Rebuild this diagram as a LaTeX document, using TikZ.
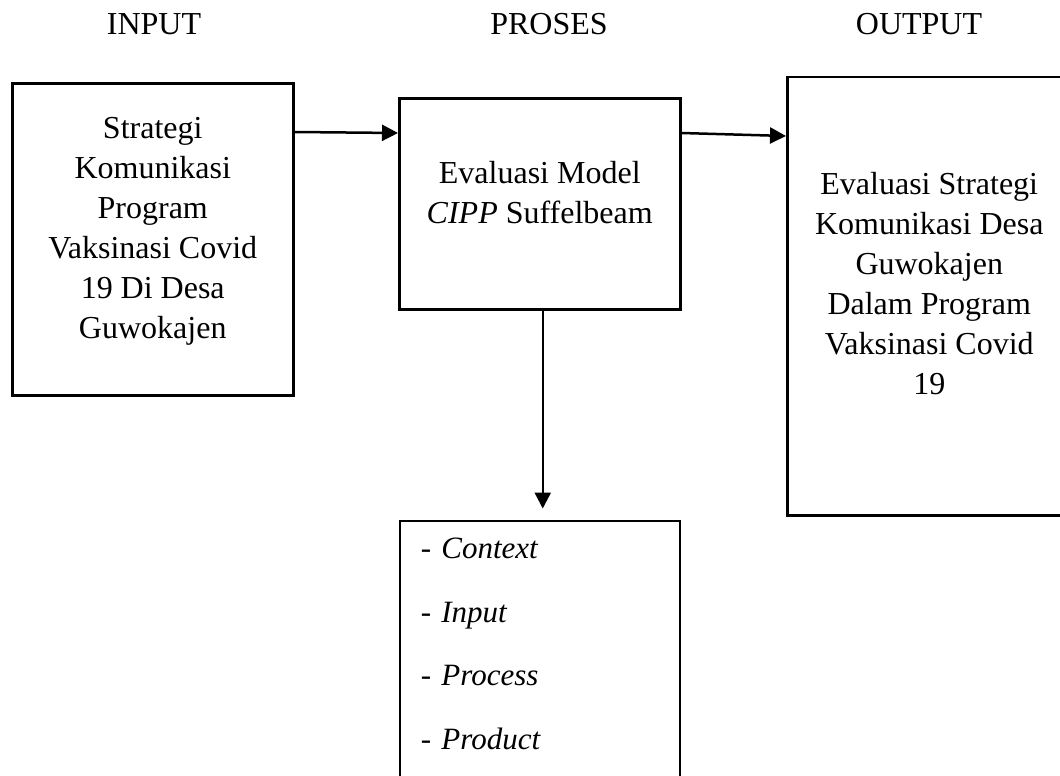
\documentclass[tikz,border=0pt]{standalone}
\usepackage{fontspec}
\setmainfont{Liberation Serif}
\usetikzlibrary{positioning,arrows.meta}
\tikzset{
  box/.style  = {draw, line width=2.5pt, align=center, inner sep=0pt, font=\fontsize{32}{40}\selectfont},
  hdr/.style  = {anchor=base, inner sep=0pt, font=\fontsize{32}{36}\selectfont},
  flow/.style = {-{Triangle[length=16pt,width=16pt]}, line width=2.5pt},
}

\begin{document}
\begin{tikzpicture}[x=1pt, y=-1pt]
  \useasboundingbox (0,0) rectangle (1060,776);
  \clip (0,0) rectangle (1060,776);
  % column titles
  \node[hdr] (tin)  at (154,35) {INPUT};
  \node[hdr] (tpro) at (549,35) {PROSES};
  \node[hdr] (tout) at (919,35) {OUTPUT};
  % boxes
  \node[box, anchor=north west, minimum width=281pt, text height=255pt, text depth=57pt] (inp) at (11,82)
    {Strategi\\Komunikasi\\Program\\Vaksinasi Covid\\19 Di Desa\\Guwokajen};
  \node[box, anchor=north west, minimum width=281pt, text height=125pt, text depth=86pt] (proc) at (398,97)
    {Evaluasi Model\\\textit{CIPP} Suffelbeam};
  \node[box, anchor=north west, minimum width=284pt, text height=317pt, text depth=121pt] (outp) at (786,76)
    {Evaluasi Strategi\\Komunikasi Desa\\Guwokajen\\Dalam Program\\Vaksinasi Covid\\19};
  \node[box, below=209pt of proc, align=left, text width=238pt, inner xsep=21pt,
        text height=38pt, text depth=300pt, font=\fontsize{31}{63.5}\selectfont] (cipp)
    {- \textit{Context}\\- \textit{Input}\\- \textit{Process}\\- \textit{Product}};
  \coordinate (tip) at ([xshift=3pt, yshift=11pt]cipp.north);
  % connectors
  \draw[flow] ([yshift=-50pt]inp.north east) -- ([yshift=-36pt]proc.north west);
  \draw[flow] ([yshift=-36pt]proc.north east) -- ([yshift=-60pt]outp.north west);
  \draw[flow] ([xshift=3pt]proc.south) -- (tip);
\end{tikzpicture}
\end{document}
